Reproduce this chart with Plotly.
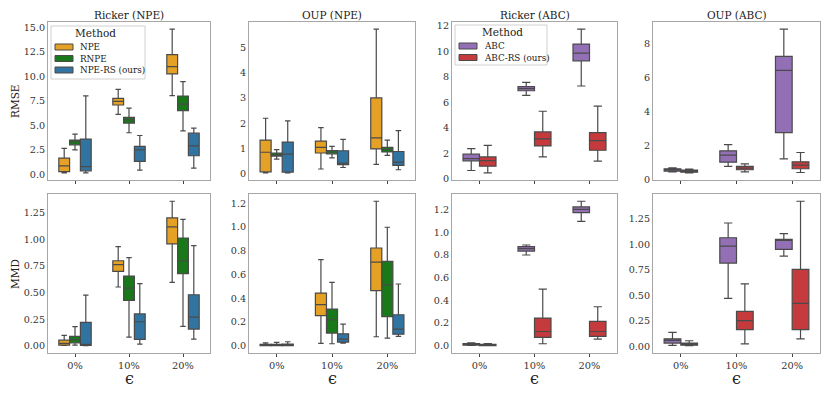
import plotly.graph_objects as go
from plotly.subplots import make_subplots

eps = ["0%", "10%", "20%"]

# each row: [lower whisker, q1, median, q3, upper whisker] for 0%, 10%, 20%
ricker_npe_rmse_npe = [[0.14, 0.27, 0.85, 1.64, 2.63], [6.1, 7.06, 7.43, 7.74, 8.66], [8.01, 10.23, 10.98, 12.2, 14.8]]
ricker_npe_rmse_rnpe = [[2.49, 3.0, 3.31, 3.48, 4.09], [4.23, 5.22, 5.56, 5.8, 6.75], [4.43, 6.48, 7.16, 7.98, 9.44]]
ricker_npe_rmse_rs = [[0.14, 0.34, 0.78, 3.58, 8.0], [0.41, 1.3, 2.49, 2.83, 3.95], [0.61, 1.88, 2.9, 4.19, 4.7]]

oup_npe_rmse_npe = [[0.05, 0.09, 0.86, 1.34, 2.2], [0.2, 0.83, 1.05, 1.3, 1.83], [0.38, 0.99, 1.43, 3.0, 5.71]]
oup_npe_rmse_rnpe = [[0.59, 0.71, 0.76, 0.83, 0.96], [0.64, 0.8, 0.87, 0.93, 1.09], [0.74, 0.87, 0.96, 1.05, 1.34]]
oup_npe_rmse_rs = [[0.05, 0.08, 0.79, 1.26, 2.1], [0.26, 0.37, 0.43, 0.92, 1.37], [0.17, 0.34, 0.47, 0.89, 1.71]]

ricker_abc_rmse_abc = [[0.65, 1.41, 1.59, 1.93, 2.37], [6.55, 6.91, 7.07, 7.23, 7.57], [7.28, 9.26, 9.86, 10.57, 11.74]]
ricker_abc_rmse_rs = [[0.47, 0.99, 1.43, 1.72, 2.63], [1.72, 2.58, 3.13, 3.68, 5.3], [1.38, 2.24, 3.0, 3.63, 5.71]]

oup_abc_rmse_abc = [[0.45, 0.49, 0.57, 0.63, 0.69], [0.77, 1.02, 1.43, 1.69, 2.06], [1.22, 2.77, 6.44, 7.27, 8.88]]
oup_abc_rmse_rs = [[0.39, 0.43, 0.49, 0.55, 0.61], [0.45, 0.57, 0.67, 0.77, 0.92], [0.41, 0.63, 0.84, 1.04, 1.59]]

ricker_npe_mmd_npe = [[0.003, 0.006, 0.022, 0.053, 0.097], [0.553, 0.70, 0.763, 0.80, 0.933], [0.597, 0.958, 1.118, 1.203, 1.36]]
ricker_npe_mmd_rnpe = [[0.006, 0.028, 0.057, 0.088, 0.18], [0.082, 0.427, 0.543, 0.656, 0.829], [0.182, 0.678, 0.80, 1.014, 1.19]]
ricker_npe_mmd_rs = [[0.0, 0.003, 0.009, 0.22, 0.477], [0.016, 0.06, 0.226, 0.30, 0.584], [0.063, 0.157, 0.27, 0.48, 0.942]]

oup_npe_mmd_npe = [[0.0, 0.001, 0.006, 0.011, 0.025], [0.02, 0.253, 0.346, 0.444, 0.725], [0.076, 0.464, 0.705, 0.823, 1.217]]
oup_npe_mmd_rnpe = [[0.0, 0.001, 0.006, 0.011, 0.028], [0.017, 0.107, 0.219, 0.309, 0.534], [0.065, 0.245, 0.512, 0.711, 0.998]]
oup_npe_mmd_rs = [[0.0, 0.001, 0.006, 0.014, 0.034], [0.022, 0.031, 0.056, 0.101, 0.183], [0.079, 0.098, 0.141, 0.261, 0.52]]

ricker_abc_mmd_abc = [[0.003, 0.006, 0.015, 0.02, 0.026], [0.8, 0.835, 0.856, 0.874, 0.888], [1.097, 1.174, 1.203, 1.224, 1.274]]
ricker_abc_mmd_rs = [[0.0, 0.001, 0.006, 0.012, 0.02], [0.018, 0.074, 0.126, 0.244, 0.5], [0.059, 0.082, 0.126, 0.215, 0.344]]

oup_abc_mmd_abc = [[0.01, 0.033, 0.059, 0.075, 0.137], [0.471, 0.815, 0.982, 1.063, 1.207], [0.884, 0.949, 1.037, 1.047, 1.103]]
oup_abc_mmd_rs = [[0.007, 0.013, 0.023, 0.033, 0.056], [0.026, 0.164, 0.252, 0.344, 0.612], [0.075, 0.164, 0.422, 0.753, 1.42]]

titles = ["Ricker (NPE)", "OUP (NPE)", "Ricker (ABC)", "OUP (ABC)"]
npe_methods = ["NPE", "RNPE", "NPE-RS (ours)"]
abc_methods = ["ABC", "ABC-RS (ours)"]
colors = {"NPE": "#e5a126", "RNPE": "#18781a", "NPE-RS (ours)": "#3274a1",
          "ABC": "#9370b5", "ABC-RS (ours)": "#c53a3c"}

panels = [
    (1, 1, [ricker_npe_rmse_npe, ricker_npe_rmse_rnpe, ricker_npe_rmse_rs], 2.5, ".1f"),
    (1, 2, [oup_npe_rmse_npe, oup_npe_rmse_rnpe, oup_npe_rmse_rs], 1, "d"),
    (1, 3, [ricker_abc_rmse_abc, ricker_abc_rmse_rs], 2, "d"),
    (1, 4, [oup_abc_rmse_abc, oup_abc_rmse_rs], 2, "d"),
    (2, 1, [ricker_npe_mmd_npe, ricker_npe_mmd_rnpe, ricker_npe_mmd_rs], 0.25, ".2f"),
    (2, 2, [oup_npe_mmd_npe, oup_npe_mmd_rnpe, oup_npe_mmd_rs], 0.2, ".1f"),
    (2, 3, [ricker_abc_mmd_abc, ricker_abc_mmd_rs], 0.2, ".1f"),
    (2, 4, [oup_abc_mmd_abc, oup_abc_mmd_rs], 0.25, ".2f"),
]

FONT = "DejaVu Serif"
# the page body adds an 8px margin, so the figure is drawn smaller and shifted
OFF = 8
W, H = 830 - 2 * OFF, 397 - 2 * OFF


def px(x):
    return (x - OFF) / W


def py(y):
    return 1 - (y - OFF) / H


xdom = [(48, 210), (249, 415), (452, 617), (653, 820)]
ydom = [(22, 180), (194, 353)]

fig = make_subplots(rows=2, cols=4)

for row, col, series, dtick, fmt in panels:
    names = npe_methods if col <= 2 else abc_methods
    lo_all, hi_all = [], []
    for name, vals in zip(names, series):
        lo_all += [v[0] for v in vals]
        hi_all += [v[4] for v in vals]
        fig.add_trace(go.Box(
            x=eps,
            lowerfence=[v[0] for v in vals],
            q1=[v[1] for v in vals],
            median=[v[2] for v in vals],
            q3=[v[3] for v in vals],
            upperfence=[v[4] for v in vals],
            name=name,
            fillcolor=colors[name],
            line=dict(color="#4a4a4a", width=1.2),
            whiskerwidth=0.5,
            boxpoints=False,
            alignmentgroup="p%d%d" % (row, col),
            offsetgroup=name,
            showlegend=False,
            hoverinfo="skip",
        ), row=row, col=col)
    lo, hi = min(lo_all), max(hi_all)
    pad = (hi - lo) * 0.05
    fig.update_yaxes(range=[lo - pad, hi + pad], dtick=dtick, tick0=0, tickformat=fmt,
                     row=row, col=col)

for i in range(8):
    r, c = divmod(i, 4)
    ax = "" if i == 0 else str(i + 1)
    fig.layout["xaxis" + ax].domain = [px(xdom[c][0]), px(xdom[c][1])]
    fig.layout["yaxis" + ax].domain = [py(ydom[r][1]), py(ydom[r][0])]

fig.update_xaxes(showline=True, mirror=True, linecolor="#a6a6a6", linewidth=1,
                 showgrid=False, zeroline=False, ticks="outside", ticklen=3,
                 tickcolor="#444444", tickfont=dict(size=9.8, color="#333333"),
                 categoryorder="array", categoryarray=eps, range=[-0.5, 2.5],
                 automargin=False)
fig.update_xaxes(showticklabels=False, row=1)
fig.update_yaxes(showline=True, mirror=True, linecolor="#a6a6a6", linewidth=1,
                 showgrid=False, zeroline=False, ticks="", automargin=False,
                 tickfont=dict(size=9.6, color="#333333"))

annotations = []
shapes = []
for c, t in enumerate(titles):
    cx = px((xdom[c][0] + xdom[c][1]) / 2)
    annotations.append(dict(text=t, x=cx, y=py(15), xref="paper", yref="paper",
                            xanchor="center", yanchor="middle",
                            showarrow=False, font=dict(size=10.5, color="#222222")))
    annotations.append(dict(text="ϵ", x=cx, y=py(378), xref="paper", yref="paper",
                            xanchor="center", yanchor="middle",
                            showarrow=False, font=dict(size=16, color="#222222")))
annotations.append(dict(text="RMSE", x=px(15), y=py(101), xref="paper", yref="paper",
                        xanchor="center", yanchor="middle",
                        showarrow=False, textangle=-90, font=dict(size=10.5, color="#222222")))
annotations.append(dict(text="MMD", x=px(15), y=py(274), xref="paper", yref="paper",
                        xanchor="center", yanchor="middle",
                        showarrow=False, textangle=-90, font=dict(size=10.5, color="#222222")))


def add_legend(names, left, top, right, bottom, title_x):
    shapes.append(dict(type="rect", xref="paper", yref="paper",
                       x0=px(left), x1=px(right), y0=py(bottom), y1=py(top),
                       line=dict(color="#d0d0d0", width=1),
                       fillcolor="rgba(255,255,255,0.85)", layer="above"))
    annotations.append(dict(text="Method", x=px(title_x), y=py(top + 7), xref="paper",
                            yref="paper", xanchor="center", yanchor="middle",
                            showarrow=False, font=dict(size=10.5, color="#222222")))
    for k, name in enumerate(names):
        yc = top + 21 + k * 11.5
        shapes.append(dict(type="rect", xref="paper", yref="paper",
                           x0=px(left + 4), x1=px(left + 22), y0=py(yc + 3), y1=py(yc - 3),
                           line=dict(color="#4a4a4a", width=1), fillcolor=colors[name],
                           layer="above"))
        annotations.append(dict(text=name, x=px(left + 27), y=py(yc), xref="paper",
                                yref="paper", xanchor="left", yanchor="middle",
                                showarrow=False, font=dict(size=8.8, color="#222222")))


add_legend(npe_methods, 51, 26, 145, 79, 95)
add_legend(abc_methods, 455, 25, 547, 65, 502)

fig.update_layout(
    width=W, height=H,
    margin=dict(l=0, r=0, t=0, b=0, autoexpand=False),
    plot_bgcolor="white", paper_bgcolor="white",
    font=dict(family=FONT, color="#222222"),
    boxmode="group", boxgap=0.4, boxgroupgap=0,
    showlegend=False,
    annotations=annotations,
    shapes=shapes,
)

fig.write_html("out.html")
